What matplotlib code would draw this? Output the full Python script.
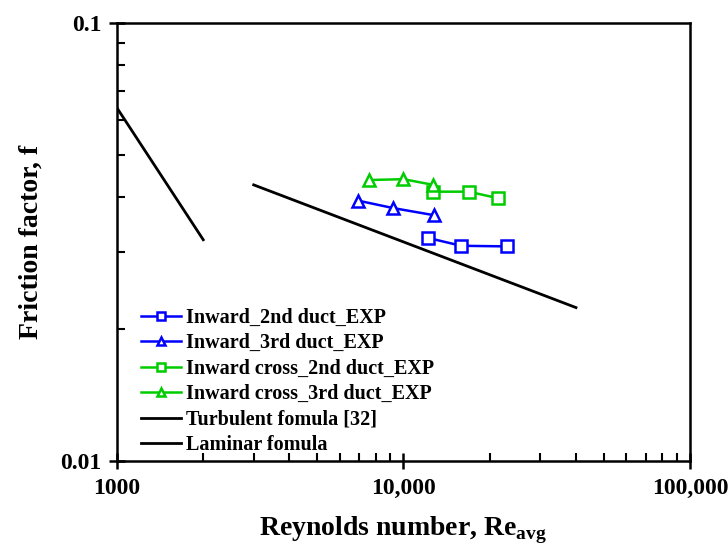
import matplotlib.pyplot as plt
from matplotlib.ticker import LogLocator, NullFormatter, FixedLocator, FixedFormatter

plt.rcParams['font.family'] = ['Liberation Serif', 'DejaVu Serif']
plt.rcParams['font.weight'] = 'bold'
plt.rcParams['mathtext.fontset'] = 'custom'
plt.rcParams['mathtext.rm'] = 'Liberation Serif:bold'
plt.rcParams['mathtext.bf'] = 'Liberation Serif:bold'

# experimental data
re_in2 = [12200, 15900, 22900]
f_in2 = [0.0323, 0.0310, 0.0309]

re_in3 = [6950, 9200, 12800]
f_in3 = [0.0393, 0.0378, 0.0364]

re_cr2 = [12700, 16900, 21400]
f_cr2 = [0.0412, 0.0412, 0.0398]

re_cr3 = [7550, 10000, 12700]
f_cr3 = [0.0438, 0.0440, 0.0427]

# correlations
re_turb = [3000, 40000]
f_turb = [0.0427, 0.0224]

re_lam = [1000, 2000]
f_lam = [0.064, 0.032]

blue = '#0000ff'
green = '#00cc00'

fig = plt.figure(figsize=(7.28, 5.48), dpi=100)
ax = fig.add_axes([0.1607, 0.1588, 0.7871, 0.7992])

mk = dict(markersize=8, markerfacecolor='white', markeredgewidth=1.8, linewidth=1.8)
ax.plot(re_in2, f_in2, 's-', color=blue, label='Inward_2nd duct_EXP', **mk)
ax.plot(re_in3, f_in3, '^-', color=blue, label='Inward_3rd duct_EXP', **mk)
ax.plot(re_cr2, f_cr2, 's-', color=green, label='Inward cross_2nd duct_EXP', **mk)
ax.plot(re_cr3, f_cr3, '^-', color=green, label='Inward cross_3rd duct_EXP', **mk)
ax.plot(re_turb, f_turb, '-', color='black', linewidth=2, label='Turbulent fomula [32]')
ax.plot(re_lam, f_lam, '-', color='black', linewidth=2, label='Laminar fomula')

ax.set_xscale('log')
ax.set_yscale('log')
ax.set_xlim(1000, 100000)
ax.set_ylim(0.01, 0.1)

ax.xaxis.set_major_locator(FixedLocator([1000, 10000, 100000]))
ax.xaxis.set_major_formatter(FixedFormatter(['1000', '10,000', '100,000']))
ax.xaxis.set_minor_locator(LogLocator(base=10, subs=range(2, 10)))
ax.xaxis.set_minor_formatter(NullFormatter())
ax.yaxis.set_major_locator(FixedLocator([0.01, 0.1]))
ax.yaxis.set_major_formatter(FixedFormatter(['0.01', '0.1']))
ax.yaxis.set_minor_locator(LogLocator(base=10, subs=range(2, 10)))
ax.yaxis.set_minor_formatter(NullFormatter())

ax.tick_params(which='major', direction='inout', length=12, width=1.8, labelsize=17, pad=5)
ax.tick_params(which='minor', direction='in', length=6, width=1.5)
ax.tick_params(axis='x', which='major', pad=6)
for s in ax.spines.values():
    s.set_linewidth(1.8)

ax.set_xlabel('Reynolds number, Re$_{\\mathregular{avg}}$', fontsize=20, fontweight='bold', labelpad=11)
ax.set_ylabel('Friction factor, f', fontsize=20, fontweight='bold', labelpad=12)

ax.legend(loc='lower left', bbox_to_anchor=(0.02, -0.014), frameon=False,
          fontsize=14.5, handlelength=2.0, handletextpad=0.25, labelspacing=0.27,
          markerscale=0.7, borderaxespad=0.2)

fig.savefig('out.png', dpi=100)
